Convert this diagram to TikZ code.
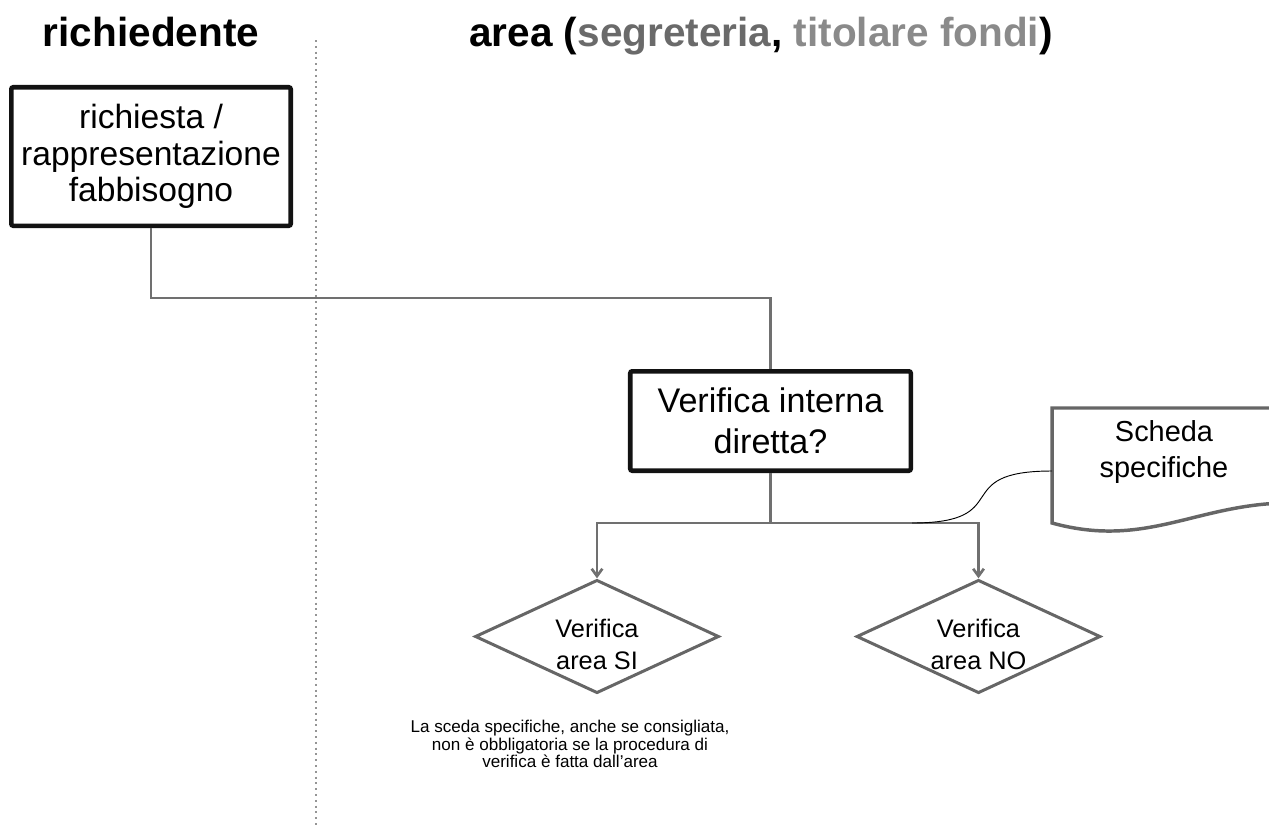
\documentclass[tikz,border=0pt]{standalone}
\usepackage{fontspec}
\setmainfont{Liberation Sans}
\usetikzlibrary{shapes.geometric, arrows.meta}
\usetikzlibrary{positioning, calc}
\definecolor{wiregrey}{HTML}{707070}
\definecolor{edgegrey}{HTML}{666666}
\definecolor{segr}{HTML}{6A6A6A}
\definecolor{tito}{HTML}{8A8A8A}
\definecolor{dotgrey}{HTML}{959595}
\def\fsz#1#2{\fontsize{#1}{#2}\selectfont}
\tikzstyle{head} = [anchor=base, inner sep=0pt, font=\fsz{30.4}{36}\bfseries]
\tikzstyle{task} = [rectangle, rounded corners=1.5pt, draw=black!93, line width=3.4pt, align=center, inner sep=0pt]
\tikzstyle{decision} = [diamond, draw=edgegrey, line width=2.25pt, minimum width=183pt, minimum height=85pt, inner sep=0pt]
\tikzstyle{dtext} = [align=center, inner sep=0pt, font=\fsz{19}{24}]
\tikzstyle{doctext} = [align=center, inner sep=0pt, font=\fsz{21.7}{26.3}]
\tikzstyle{docline} = [draw=edgegrey, fill=white, line width=2.6pt]
\tikzstyle{divider} = [dotgrey, line width=1.5pt, dash pattern=on 1.5pt off 2.85pt]
\tikzstyle{wire} = [wiregrey, line width=2pt]
\tikzstyle{aro} = [wire, -{Straight Barb[length=5.5pt,width=8pt]}]

\begin{document}
\begin{tikzpicture}[x=0.75pt, y=-0.75pt]
  \useasboundingbox (0,0) rectangle (1269,828);

  % lanes
  \node (lreq) [head] at (151,46) {richiedente};
  \node (larea) [head] at (761,46) {area (\textcolor{segr}{segreteria}, \textcolor{tito}{titolare fondi})};
  \coordinate (divtop) at (316,40);
  \coordinate (divbot) at (316,828);
  \draw [divider] (divtop) -- (divbot);

  \node (req) [task, minimum width=209.6pt, minimum height=103.9pt, font=\fsz{25.2}{27.5}] at (151,156.5) {richiesta /\\rappresentazione\\fabbisogno};
  \node (verif) [task, minimum width=210.4pt, minimum height=74.6pt, font=\fsz{25.6}{31}] at (770.5,421) {Verifica interna\\diretta?};

  \node (si) [decision] at (597,636.5) {};
  \node (no) [decision] at (978.5,636.5) {};
  \node (sitxt) [dtext] at (597,644) {Verifica\\area SI};
  \node (notxt) [dtext] at (978.5,644) {Verifica\\area NO};

  \node (note) [align=center, inner sep=0pt, font=\fsz{12.8}{13.1}] at (570,744) {La sceda specifiche, anche se consigliata,\\non è obbligatoria se la procedura di\\verifica è fatta dall’area};

  % document, cut by the page edge
  \begin{scope}
    \clip (0,0) rectangle (1269,828);
    \draw [docline] (1052,523) -- (1052,408) -- (1300,408) -- (1300,503)
      .. controls (1200,500) and (1150,550) .. (1052,523) -- cycle;
  \end{scope}
  \node (scheda) [doctext] at (1164,452) {Scheda\\specifiche};
  \coordinate (docin) at (1052,471);

  \draw [wire] (req.south) -- ++(0,70) -| (verif.north);
  \coordinate (split) at (770.5,523);
  \draw [wire] (verif.south) -- (split);
  \draw [aro] (split) -| (si.north);
  \draw [aro] (split) -| (no.north);

  \coordinate (tap) at (912,523);
  \draw [black, line width=0.7pt] (tap) to[out=0, in=180, looseness=1.8] (docin);
\end{tikzpicture}
\end{document}
